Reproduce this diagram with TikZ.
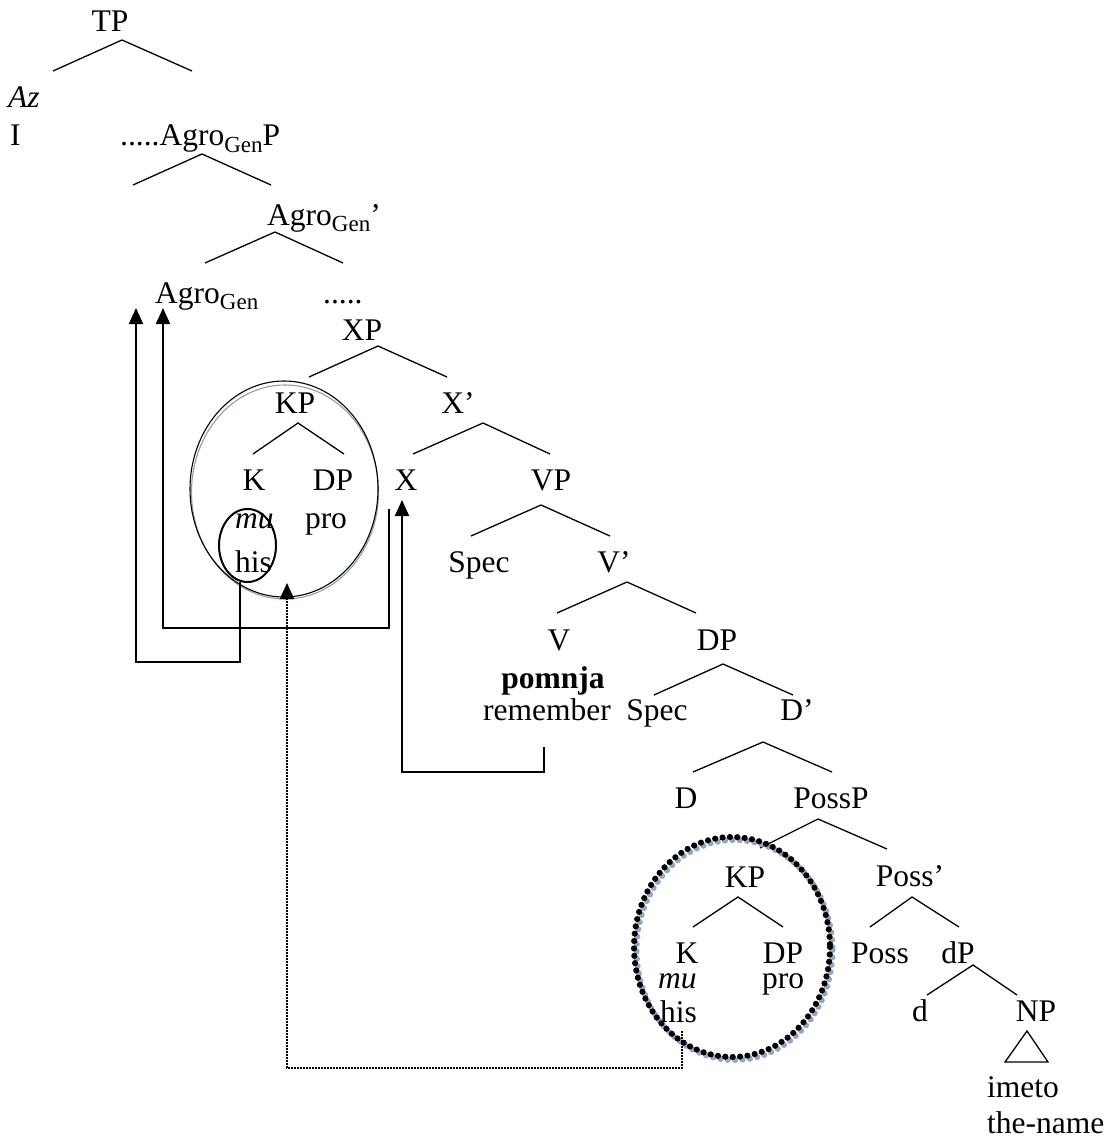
\documentclass[tikz,border=0pt]{standalone}
\usepackage{fontspec}
\setmainfont{Liberation Serif}
\usetikzlibrary{arrows.meta}
\newcommand{\gsub}[1]{\raisebox{-6pt}{\fontsize{23}{23}\selectfont #1}}
\definecolor{ringgray}{RGB}{140,155,182}
\definecolor{dotshadow}{RGB}{150,165,192}
\begin{document}
\begin{tikzpicture}[x=1pt,y=-1pt,
  lab/.style={anchor=base,inner sep=0pt,font=\fontsize{31.5}{36}\selectfont},
  labw/.style={lab,anchor=base west},
  br/.style={line width=1.3pt},
  conn/.style={line width=2pt,-{Triangle[width=14pt,length=16pt]}},
  dconn/.style={line width=2pt,densely dotted,-{Triangle[width=14pt,length=16pt]}}]
\useasboundingbox (0,0) rectangle (1111,1145);

% ---------- labels ----------
\node[lab]  (tp)    at (110,32)  {TP};
\node[labw] (az)    at (8,108)   {\itshape Az};
\node[labw] (i)     at (10,146)  {I};
\node[labw] (agrp)  at (120,146) {.....Agro\gsub{Gen}P};
\node[labw] (agrb)  at (267,225) {Agro\gsub{Gen}’};
\node[labw] (agr)   at (155,303) {Agro\gsub{Gen}};
\node[labw] (dots)  at (323,303) {.....};
\node[lab]  (xp)    at (362,340) {XP};
\node[lab]  (kp1)   at (295,413) {KP};
\node[lab]  (xbar)  at (458,413) {X’};
\node[lab]  (k1)    at (254,490) {K};
\node[lab]  (dp1)   at (333,490) {DP};
\node[lab]  (x)     at (406,490) {X};
\node[lab]  (vp)    at (551,490) {VP};
\node[labw] (mu1)   at (235,528) {\itshape mu};
\node[lab]  (pro1)  at (326,528) {pro};
\node[labw] (his1)  at (235,572) {his};
\node[lab]  (spec1) at (479,572) {Spec};
\node[lab]  (vbar)  at (614,572) {V’};
\node[lab]  (v)     at (559,650) {V};
\node[lab]  (dp2)   at (717,650) {DP};
\node[lab]  (pom)   at (553,688) {\bfseries pomnja};
\node[lab]  (rem)   at (547,720) {remember};
\node[lab]  (spec2) at (657,720) {Spec};
\node[lab]  (dbar)  at (797,720) {D’};
\node[lab]  (d)     at (686,808) {D};
\node[lab]  (possp) at (831,808) {PossP};
\node[lab]  (kp2)   at (745,887) {KP};
\node[lab]  (possb) at (910,886) {Poss’};
\node[lab]  (k2)    at (687,963) {K};
\node[lab]  (dp3)   at (783,963) {DP};
\node[lab]  (poss)  at (880,963) {Poss};
\node[lab]  (sdp)   at (958,963) {dP};
\node[labw] (mu2)   at (658,988) {\itshape mu};
\node[lab]  (pro2)  at (783,988) {pro};
\node[lab]  (sd)    at (920,1021) {d};
\node[lab]  (np)    at (1036,1021) {NP};
\node[labw] (his2)  at (660,1022) {his};
\node[labw] (imeto) at (987,1097) {imeto};
\node[labw] (name)  at (987,1133) {the-name};

% ---------- branches ----------
\draw[br] (53,71) -- (122,40) -- (192,71);
\draw[br] (133,185) -- (202,154) -- (271,185);
\draw[br] (205,263) -- (275,232) -- (343,263);
\draw[br] (309,377) -- (378,346) -- (447,377);
\draw[br] (253,454) -- (298,423) -- (344,454);
\draw[br] (413,454) -- (483,423) -- (550,454);
\draw[br] (471,536) -- (541,505) -- (610,536);
\draw[br] (557,613) -- (627,582) -- (696,613);
\draw[br] (654,695) -- (723,664) -- (793,695);
\draw[br] (693,772) -- (763,742) -- (832,772);
\draw[br] (760,848) -- (818,819) -- (887,849);
\draw[br] (870,927) -- (912,897) -- (959,927);
\draw[br] (693,927) -- (738,897) -- (783,927);
\draw[br] (927,995) -- (973,965) -- (1017,995);
\draw[br] (1005,1062) -- (1027,1031) -- (1048,1062) -- cycle;

% ---------- rings ----------
\draw[ringgray,line width=1.1pt] (285,492) ellipse [x radius=93.5,y radius=107];
\draw[line width=1.1pt] (284,489) ellipse [x radius=94,y radius=108];
\draw[line width=2pt] (247.5,545.5) ellipse [x radius=28.5,y radius=36.5];
\draw[dotshadow,line width=6.2pt,line cap=round,dash pattern=on 0pt off 7.4pt]
  (734.5,950) ellipse [x radius=98,y radius=110];
\draw[line width=6.2pt,line cap=round,dash pattern=on 0pt off 7.4pt]
  (732,947) ellipse [x radius=98,y radius=110];

% ---------- movement connectors ----------
\coordinate (hisfoot) at (240,582);
\coordinate (xfoot)   at (389,509);
\coordinate (remfoot) at (544,747);
\coordinate (his2foot) at (682,1031);
\draw[conn] (hisfoot) |- (136,662) -- (136,308);
\draw[conn] (xfoot) |- (163,628) -- (163,308);
\draw[conn] (remfoot) |- (402,772) -- (402,500);
\draw[dconn] (his2foot) |- (287,1068) -- (287,583);
\end{tikzpicture}
\end{document}
